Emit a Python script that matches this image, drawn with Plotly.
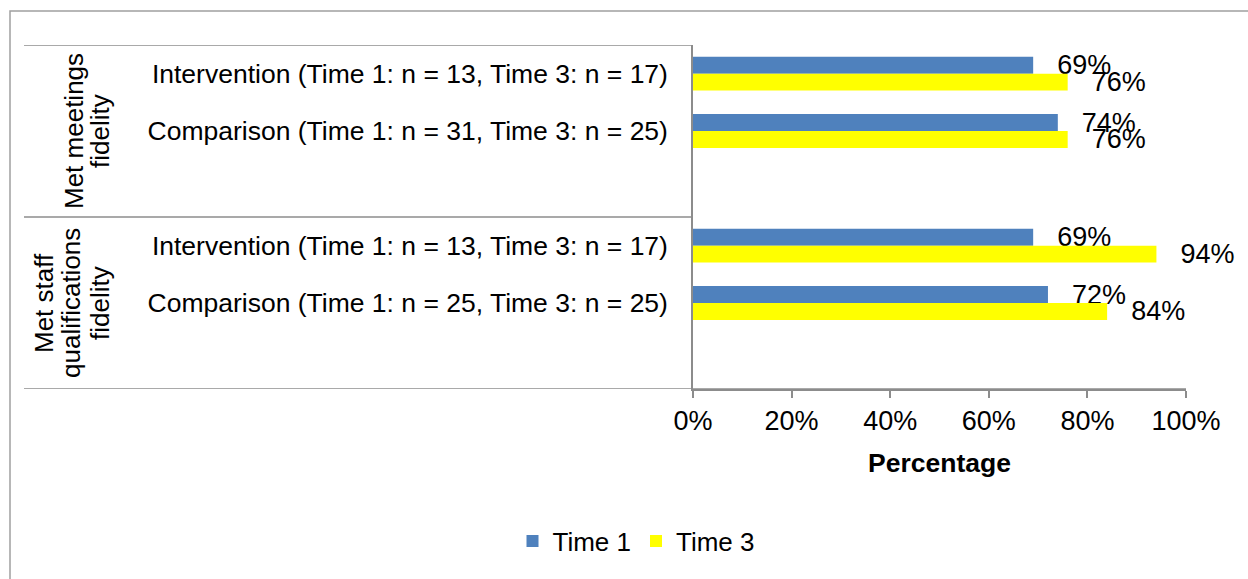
import plotly.graph_objects as go

# ---------------- data ----------------
group_lines = [["Met meetings", "fidelity"], ["Met staff", "qualifications", "fidelity"]]
cat_keys = ["mm_int", "mm_cmp", "mm_gap", "sq_int", "sq_cmp", "sq_gap"]
cat_labels = [
    "Intervention (Time 1: n = 13, Time 3: n = 17)",
    "Comparison (Time 1: n = 31, Time 3: n = 25)",
    "",
    "Intervention (Time 1: n = 13, Time 3: n = 17)",
    "Comparison (Time 1: n = 25, Time 3: n = 25)",
    "",
]
group_sizes = [3, 3]
time1 = [0.69, 0.74, None, 0.69, 0.72, None]
time3 = [0.76, 0.76, None, 0.94, 0.84, None]
x_ticks = [0, 0.2, 0.4, 0.6, 0.8, 1.0]

# ---------------- style ----------------
FONT = "Liberation Sans, Arial, sans-serif"
FS = 26.5
GRAY = "#8c8c8c"
BLUE = "#4F81BD"
YELLOW = "#FFFF00"
W, H = 1248, 579
ML, MR, MT, MB = 693, 62, 45, 190
PW = W - ML - MR
PH = H - MT - MB


def px_x(p):
    return (p - ML) / PW


def px_y(p):
    return (H - MB - p) / PH


fig = go.Figure()
pad = "\u00a0\u2002"
for name, vals, col in [("Time 1", time1, BLUE), ("Time 3", time3, YELLOW)]:
    fig.add_trace(go.Bar(
        name=name, y=cat_keys, x=vals, orientation="h",
        marker=dict(color=col, line=dict(width=0)),
        texttemplate=pad + "%{x:.0%}", textposition="outside",
        constraintext="none", cliponaxis=False,
        textfont=dict(family=FONT, size=27, color="black"),
    ))

left = px_x(24)
shapes = []
# outer border
shapes.append(dict(type="rect", xref="paper", yref="paper",
                   x0=px_x(10), x1=px_x(1300), y0=px_y(640), y1=px_y(11),
                   line=dict(color="#a0a0a0", width=1.5), fillcolor="rgba(0,0,0,0)", layer="below"))
# table horizontal lines at group boundaries
b = -0.5
bounds = [b]
for s in group_sizes:
    b += s
    bounds.append(b)
for i, yb in enumerate(bounds):
    x1 = 0 if i < len(bounds) - 1 else 1
    shapes.append(dict(type="line", xref="paper", yref="y",
                       x0=left, x1=x1, y0=yb, y1=yb,
                       line=dict(color=GRAY, width=1.5)))

annotations = []
group_line_x = [[74, 100], [44, 71, 100]]
start = 0
for g, lines in enumerate(group_lines):
    center = start + (group_sizes[g] - 1) / 2
    for j, txt in enumerate(lines):
        annotations.append(dict(
            text=txt, xref="paper", yref="y", x=px_x(group_line_x[g][j]), y=center,
            textangle=-90, showarrow=False, xanchor="center", yanchor="middle",
            font=dict(family=FONT, size=26, color="black")))
    start += group_sizes[g]

fig.update_layout(
    width=W, height=H, autosize=False,
    margin=dict(l=ML, r=MR, t=MT, b=MB, pad=0),
    paper_bgcolor="white", plot_bgcolor="white",
    barmode="group", bargap=0.41, bargroupgap=0,
    font=dict(family=FONT, size=FS, color="black"),
    shapes=shapes, annotations=annotations,
    legend=dict(orientation="h", x=px_x(636), y=px_y(541), xanchor="center", yanchor="middle",
                font=dict(family=FONT, size=26, color="black"), traceorder="normal",
                itemwidth=30, bgcolor="rgba(0,0,0,0)"),
    xaxis=dict(range=[0, 1], tickvals=x_ticks, tickformat=".0%", ticks="outside", ticklen=7,
               tickwidth=1.5, tickcolor=GRAY, showline=True, linecolor=GRAY, linewidth=1.5,
               showgrid=False, zeroline=False, fixedrange=True,
               tickfont=dict(family=FONT, size=27, color="black"),
               title=dict(text="<b>Percentage</b>", standoff=18,
                          font=dict(family=FONT, size=26.5, color="black"))),
    yaxis=dict(type="category", categoryarray=cat_keys, categoryorder="array",
               tickvals=cat_keys, ticktext=cat_labels, range=[len(cat_keys) - 0.5, -0.5],
               showline=True, linecolor=GRAY, linewidth=1.5, ticks="", showgrid=False,
               zeroline=False, ticklabelstandoff=18, fixedrange=True,
               tickfont=dict(family=FONT, size=FS, color="black")),
)

fig.write_html("out.html")
